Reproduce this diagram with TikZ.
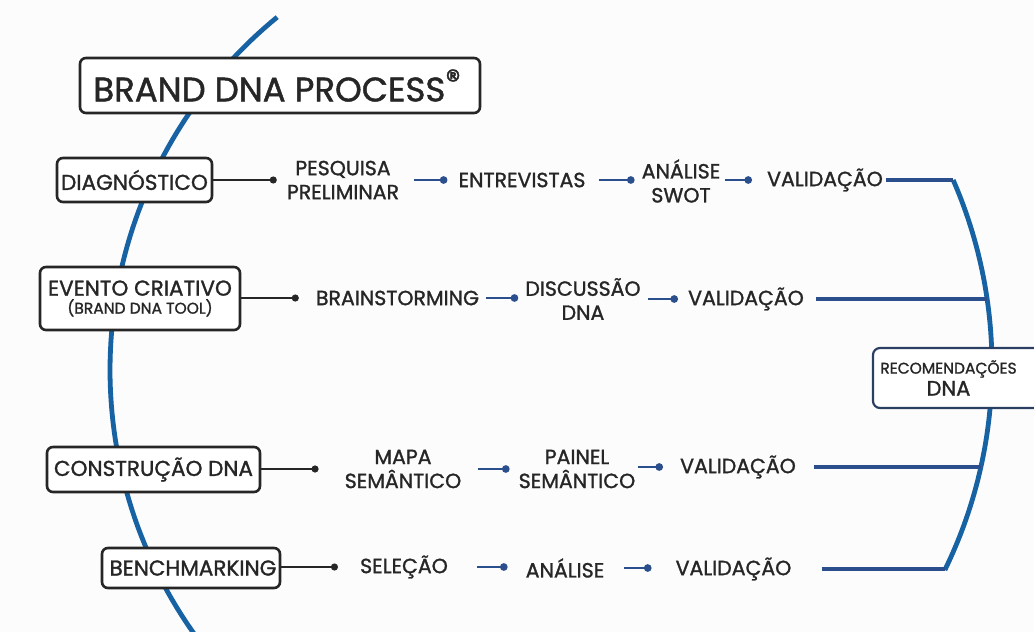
\documentclass[tikz,border=0pt]{standalone}
\usepackage{fontspec}
\setmainfont{Poppins}[FakeBold=1.3]
\usetikzlibrary{arrows.meta}
\definecolor{arcblue}{HTML}{1762A3}
\definecolor{navy}{HTML}{2A4F8C}
\definecolor{txt}{HTML}{262626}
\definecolor{recline}{HTML}{2B3F63}
\definecolor{bg}{HTML}{FCFCFC}
\begin{document}
\begin{tikzpicture}[x=1pt,y=-1pt,
  lbl/.style={font=\fontsize{20.5}{24}\selectfont, align=center, inner sep=0pt, text=txt},
  stage/.style={draw=txt, line width=2.6pt, rounded corners=6pt, fill=white, inner xsep=3pt, inner ysep=2pt, text=txt, align=center, font=\fontsize{21.5}{22}\selectfont},
  blk/.style={draw=txt, line width=2.2pt, -{Circle[length=7pt]}},
  blu/.style={draw=navy, line width=2.8pt, -{Circle[length=7.5pt]}},
  bline/.style={draw=navy, line width=3.2pt},
  arcline/.style={draw=arcblue, line width=4.8pt}
]
\fill[bg] (0,0) rectangle (1034,632);
\useasboundingbox (0,0) rectangle (1034,632);
\clip (0,0) rectangle (1034,632);

% left arc
\draw[arcline] plot[domain=142:230.7, samples=80] ({566+456*cos(\x)},{370+456*sin(\x)});
% right arc
\draw[arcline] plot[domain=-23.58:26.02, samples=60] ({527+465*cos(\x)},{366+465*sin(\x)});
\coordinate (r1) at (953,180);
\coordinate (r2) at (987,298);
\coordinate (r3) at (981,468);
\coordinate (r4) at (945,569);

% title
\node[stage, minimum width=400, minimum height=55, font=\fontsize{34}{34}\selectfont] (title) at (280,85.5)
  {\hspace*{-6pt}BRAND DNA PROCESS\raisebox{0.32em}{\fontsize{30}{30}\selectfont ®}};

% stage boxes
\node[stage, minimum width=155, minimum height=44] (diag) at (134.5,180) {DIAGNÓSTICO};
\node[stage, minimum width=200, minimum height=63, font=\fontsize{21.5}{21}\selectfont] (evento) at (140,298.5)
  {EVENTO CRIATIVO\\[-3pt]{\fontsize{15.5}{15}\selectfont (BRAND DNA TOOL)}};
\node[stage, minimum width=213, minimum height=45] (constr) at (153.5,469.5) {CONSTRUÇÃO DNA};
\node[stage, minimum width=178, minimum height=40] (bench) at (191,568) {\makebox[162pt]{\hspace*{4pt}BENCHMARKING}};

% recommendation box
\node[draw=recline, line width=2.2pt, rounded corners=7pt, fill=white, minimum width=170, minimum height=60, inner sep=0pt] (recbox) at (958,378) {};
\node[lbl, font=\fontsize{21}{21}\selectfont] (rec) at (948.5,378) {{\fontsize{15.5}{15}\selectfont RECOMENDAÇÕES}\\[1pt]DNA};

% labels row 1
\node[lbl] (pesq) at (343,180) {PESQUISA\\PRELIMINAR};
\node[lbl] (entrev) at (522,180) {ENTREVISTAS};
\node[lbl] (anal1) at (681,181) {ANÁLISE\\SWOT};
\node[lbl] (val1) at (825,180) {VALIDAÇÃO};
% row 2
\node[lbl] (brain) at (397.5,298) {BRAINSTORMING};
\node[lbl] (disc) at (583,299) {DISCUSSÃO\\DNA};
\node[lbl] (val2) at (746,299) {VALIDAÇÃO};
% row 3
\node[lbl] (mapa) at (403,469) {MAPA\\SEMÂNTICO};
\node[lbl] (painel) at (577,469) {PAINEL\\SEMÂNTICO};
\node[lbl] (val3) at (738,467) {VALIDAÇÃO};
% row 4
\node[lbl] (sel) at (404,567) {SELEÇÃO};
\node[lbl] (anal2) at (565,568) {ANÁLISE};
\node[lbl] (val4) at (733.5,569) {VALIDAÇÃO};

% black connectors
\draw[blk, shorten >=10pt] (diag.east |- pesq) -- (pesq.west);
\draw[blk, shorten >=17pt] (evento.east |- brain) -- (brain.west);
\draw[blk, shorten >=26pt] (constr.east |- mapa) -- (mapa.west);
\draw[blk, shorten >=22pt] (bench.east |- sel) -- (sel.west);

% blue connectors row 1
\draw[blu, shorten <=15pt, shorten >=11pt] (pesq.east) -- (entrev.west);
\draw[blu, shorten <=13pt, shorten >=7pt] (entrev.east) -- (anal1.west |- entrev);
\draw[blu, shorten <=5pt, shorten >=15pt] (anal1.east |- val1) -- (val1.west);
\draw[bline, shorten <=3pt] (val1.east) -- (r1);
% row 2
\draw[blu, shorten <=7pt, shorten >=7pt] (brain.east) -- (disc.west |- brain);
\draw[blu, shorten <=7pt, shorten >=10pt] (disc.east |- val2) -- (val2.west);
\draw[bline, shorten <=12pt] (val2.east) -- (val2.east -| r2);
% row 3
\draw[blu, shorten <=17pt, shorten >=9pt] (mapa.east) -- (painel.west |- mapa);
\draw[blu, shorten <=3pt, shorten >=17pt] (painel.east |- val3) -- (val3.west);
\draw[bline, shorten <=18pt] (val3.east) -- (val3.east -| r3);
% row 4
\draw[blu, shorten <=29pt, shorten >=18pt] (sel.east) -- (anal2.west |- sel);
\draw[blu, shorten <=20pt, shorten >=24pt] (anal2.east) -- (val4.west |- anal2);
\draw[bline, shorten <=30pt] (val4.east) -- (val4.east -| r4);
\end{tikzpicture}
\end{document}
